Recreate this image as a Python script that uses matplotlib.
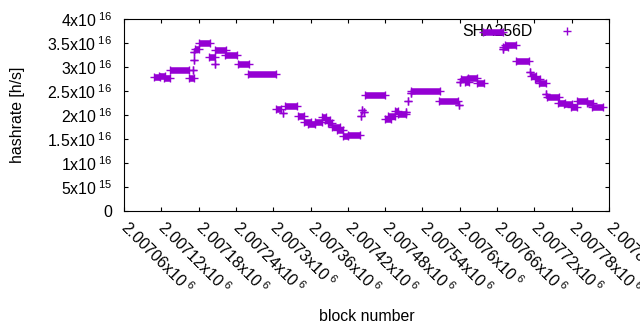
import matplotlib
matplotlib.use("Agg")
import numpy as np
import matplotlib.pyplot as plt
from matplotlib.lines import Line2D
from matplotlib.ticker import FuncFormatter, MultipleLocator

plt.rcParams["font.family"] = "Liberation Sans"
plt.rcParams["font.size"] = 11.4
plt.rcParams["mathtext.fontset"] = "custom"
plt.rcParams["mathtext.rm"] = "Liberation Sans"
plt.rcParams["mathtext.default"] = "regular"

# runs of blocks that share one hashrate estimate: first block, last block, h/s
seg_start = [2007108, 2007117, 2007124, 2007134, 2007165, 2007171, 2007173, 2007172,
             2007174, 2007181, 2007197, 2007206, 2007207, 2007222, 2007243, 2007259,
             2007305, 2007316, 2007319, 2007340, 2007350, 2007356, 2007367, 2007378,
             2007383, 2007388, 2007395, 2007403, 2007412, 2007420, 2007441, 2007442,
             2007446, 2007447, 2007480, 2007484, 2007496, 2007500, 2007513, 2007517,
             2007521, 2007522, 2007567, 2007599, 2007600, 2007602, 2007608, 2007613,
             2007628, 2007638, 2007669, 2007670, 2007672, 2007691, 2007713, 2007714,
             2007721, 2007727, 2007738, 2007741, 2007758, 2007768, 2007779, 2007789,
             2007804, 2007813]
seg_end = [2007118, 2007126, 2007134, 2007164, 2007172, 2007171, 2007173, 2007172,
           2007181, 2007198, 2007206, 2007206, 2007224, 2007242, 2007261, 2007304,
           2007312, 2007316, 2007339, 2007349, 2007360, 2007367, 2007379, 2007385,
           2007392, 2007395, 2007407, 2007412, 2007420, 2007440, 2007441, 2007442,
           2007446, 2007480, 2007490, 2007496, 2007501, 2007514, 2007513, 2007517,
           2007521, 2007568, 2007597, 2007599, 2007600, 2007611, 2007615, 2007628,
           2007639, 2007670, 2007669, 2007678, 2007691, 2007711, 2007713, 2007722,
           2007729, 2007738, 2007738, 2007759, 2007769, 2007781, 2007789, 2007804,
           2007814, 2007830]
seg_rate = [2.785e16, 2.81e16, 2.765e16, 2.93e16, 2.78e16, 2.94e16, 3.15e16, 3.31e16,
            3.37e16, 3.51e16, 3.21e16, 3.06e16, 3.35e16, 3.24e16, 3.06e16, 2.85e16,
            2.135e16, 2.04e16, 2.18e16, 1.97e16, 1.86e16, 1.81e16, 1.85e16, 1.96e16,
            1.90e16, 1.83e16, 1.74e16, 1.68e16, 1.57e16, 1.58e16, 1.98e16, 2.10e16,
            2.07e16, 2.41e16, 1.92e16, 1.97e16, 2.08e16, 2.02e16, 2.06e16, 2.29e16,
            2.46e16, 2.51e16, 2.30e16, 2.20e16, 2.68e16, 2.75e16, 2.69e16, 2.78e16,
            2.66e16, 3.735e16, 3.37e16, 3.42e16, 3.45e16, 3.12e16, 2.89e16, 2.81e16,
            2.74e16, 2.66e16, 2.44e16, 2.37e16, 2.26e16, 2.23e16, 2.17e16, 2.30e16,
            2.24e16, 2.16e16]

color = "#9400D3"


def gp_sci(v, pos):
    # gnuplot style "%.0t x10^{%T}"
    if v == 0:
        return "0"
    e = int(np.floor(np.log10(abs(v)) + 1e-9))
    m = round(v / 10 ** e, 6)
    return "%gx10$^{\\;%d}$" % (m, e)


fig = plt.figure(figsize=(6.4, 3.3), dpi=100)
ax = fig.add_axes([124 / 640, 1 - 211 / 330, 485 / 640, 192 / 330])

ax.hlines(seg_rate, seg_start, seg_end, colors=color, linewidth=4.7, zorder=3)
ax.plot(seg_start + seg_end, seg_rate + seg_rate, "+", color=color,
        markersize=6, markeredgewidth=1.0, zorder=3)

ax.set_xlim(2007060, 2007840)
ax.set_ylim(0, 4e16)
ax.xaxis.set_major_locator(MultipleLocator(60))
ax.yaxis.set_major_locator(MultipleLocator(5e15))
ax.xaxis.set_major_formatter(FuncFormatter(gp_sci))
ax.yaxis.set_major_formatter(FuncFormatter(gp_sci))

ax.tick_params(direction="in", length=3, width=0.8, top=True, right=True)
ax.tick_params(axis="y", pad=8.6)
ax.tick_params(axis="x", pad=9.5)
for lab in ax.get_xticklabels():
    lab.set_rotation(-45)
    lab.set_ha("left")
    lab.set_va("center")
    lab.set_rotation_mode("anchor")
for sp in ax.spines.values():
    sp.set_linewidth(0.8)

ax.set_xlabel("block number")
ax.set_ylabel("hashrate [h/s]")
ax.xaxis.set_label_coords(0.5, -0.547)
ax.xaxis.label.set_va("center")
ax.yaxis.set_label_coords(-0.219, 0.5)
ax.yaxis.label.set_va("center")

h = Line2D([], [], marker="+", ls="none", color=color, markersize=6, markeredgewidth=1.0)
leg = ax.legend(handles=[h], labels=["SHA256D"], loc="center right",
                bbox_to_anchor=(583 / 640, 1 - 32 / 330), bbox_transform=fig.transFigure,
                frameon=False, markerfirst=False, borderpad=0, borderaxespad=0,
                handletextpad=1.2, handlelength=2)
leg.set_zorder(1)

fig.savefig("out.png", dpi=100)
